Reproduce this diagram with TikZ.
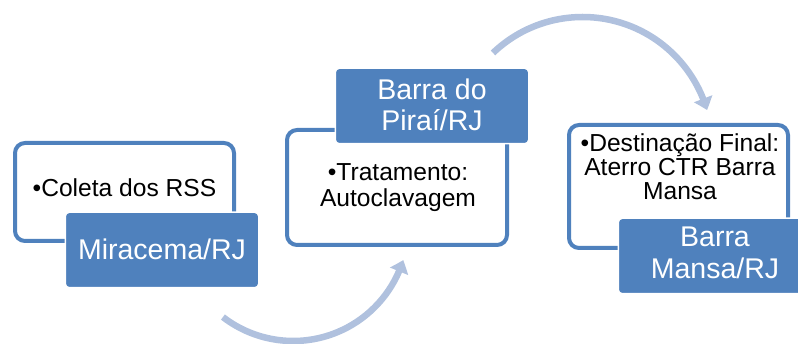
\documentclass[tikz,border=0pt]{standalone}
\usepackage{fontspec}
\setmainfont{Liberation Sans}
\usetikzlibrary{arrows.meta,bending}
\definecolor{accblue}{RGB}{79,129,189}
\definecolor{arcblue}{RGB}{176,193,222}
\begin{document}
\begin{tikzpicture}[x=1pt,y=1pt,
  outbox/.style={draw=accblue, line width=4pt, rounded corners=10pt, fill=white, inner sep=0pt},
  labbox/.style={fill=accblue, draw=white, line width=1.5pt, rounded corners=4pt, inner sep=0pt, minimum width=193.5pt, minimum height=75.5pt},
  bodytext/.style={font=\fontsize{24.6}{26}\selectfont, align=center, inner sep=0pt, anchor=base},
  labtext/.style={font=\fontsize{28.5}{31.5}\selectfont, text=white, align=center, inner sep=0pt, anchor=base},
  arcarrow/.style={draw=arcblue, line width=6.5pt, -{Triangle[width=19pt,length=12pt,bend]}}]
\useasboundingbox (0,0) rectangle (798,344);
% arcs
\coordinate (topc) at (582.6,197.3);
\coordinate (botc) at (293.2,118.2);
\draw[arcarrow] (topc) ++(133.7:129.7) arc[start angle=133.7, end angle=16.4, radius=129.7];
\draw[arcarrow] (botc) ++(232.4:115.2) arc[start angle=232.4, end angle=342.7, radius=115.2];
% box 1
\node[outbox, minimum width=219pt, minimum height=98pt] (box1) at (124.5,152) {};
\node[labbox] (lab1) at (162,94) {};
\node[bodytext] (txt1) at (124.5,147) {•Coleta dos RSS};
\node[labtext] (ltx1) at (162,84) {Miracema/RJ};
% box 2
\node[outbox, minimum width=220pt, minimum height=115pt] (box2) at (397,156.5) {};
\node[labbox] (lab2) at (432,238) {};
\node[bodytext] (txt2) at (398,137) {•Tratamento:\\Autoclavagem};
\node[labtext] (ltx2) at (432,213.2) {Barra do\\Piraí/RJ};
% box 3
\node[outbox, minimum width=219pt, minimum height=123pt] (box3) at (678.5,157.5) {};
\node[labbox] (lab3) at (715,88) {};
\node[bodytext, font=\fontsize{24.6}{24}\selectfont] (txt3) at (680,144) {•Destinação Final:\\Aterro CTR Barra\\Mansa};
\node[labtext] (ltx3) at (715,65.8) {Barra\\Mansa/RJ};
\end{tikzpicture}
\end{document}
